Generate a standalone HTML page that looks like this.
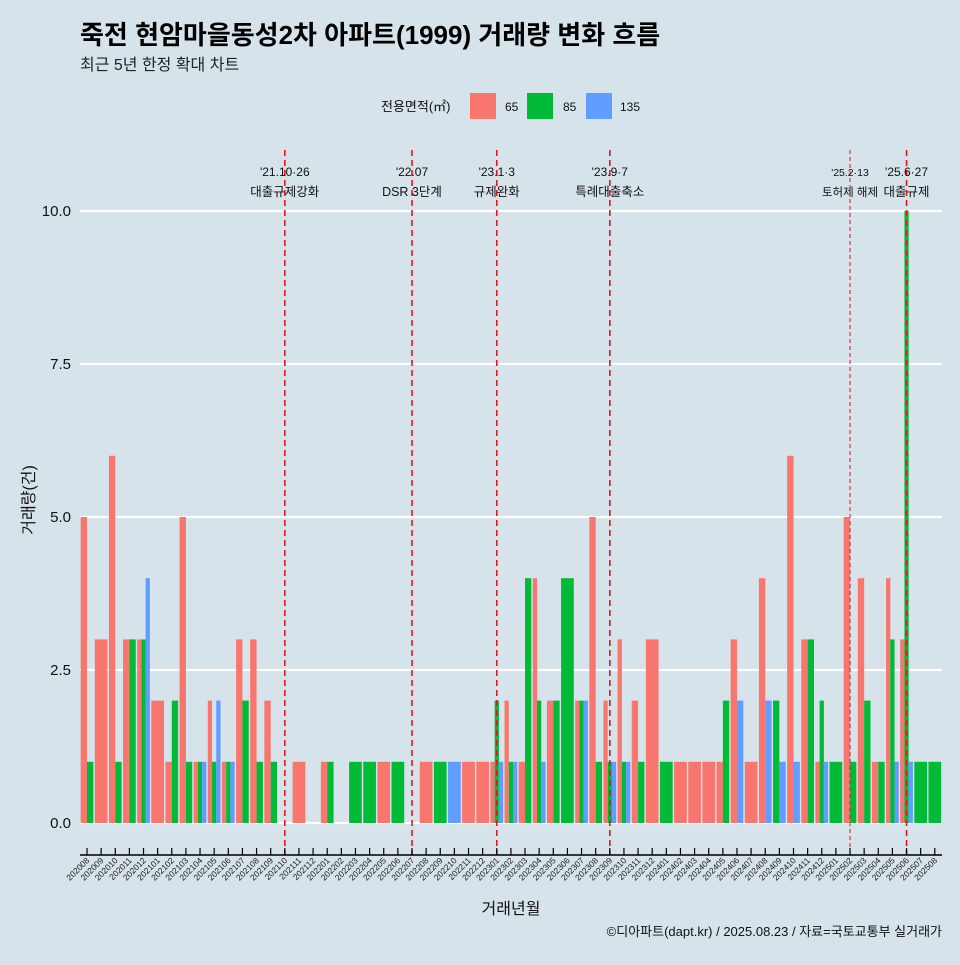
<!DOCTYPE html>
<html><head><meta charset="utf-8">
<style>
html,body{margin:0;padding:0;background:#d6e3ea;}
body{width:960px;height:960px;overflow:hidden;font-family:"Liberation Sans","Noto Sans CJK KR",sans-serif;}
</style></head>
<body>
<svg id="chart" width="960" height="960" xmlns="http://www.w3.org/2000/svg" style="font-family:'Liberation Sans','Noto Sans CJK KR',sans-serif">
<rect width="960" height="960" fill="#d6e3ea"/>
<text x="80" y="44" font-size="26" font-weight="bold" fill="#000">죽전 현암마을동성2차 아파트(1999) 거래량 변화 흐름</text>
<text x="80" y="70" font-size="16" fill="#222">최근 5년 한정 확대 차트</text>
<g>
<text x="381" y="111" font-size="13" fill="#111">전용면적(㎡)</text>
<rect x="470" y="93" width="26" height="26" fill="#F8766D"/>
<text x="505" y="111" font-size="12" fill="#111">65</text>
<rect x="527" y="93" width="26" height="26" fill="#00BA38"/>
<text x="563" y="111" font-size="12" fill="#111">85</text>
<rect x="586" y="93" width="26" height="26" fill="#619CFF"/>
<text x="620" y="111" font-size="12" fill="#111">135</text>
</g>
<g id="grid"></g><g id="bars"></g><g id="events"></g><g id="axes"></g>
<text transform="translate(34,500) rotate(-90)" text-anchor="middle" font-size="16" fill="#111">거래량(건)</text>
<text x="511" y="914" text-anchor="middle" font-size="16" fill="#111">거래년월</text>
<text x="942" y="936" text-anchor="end" font-size="13" fill="#111">©디아파트(dapt.kr) / 2025.08.23 / 자료=국토교통부 실거래가</text>
</svg>
<script>
const months=["202008","202009","202010","202011","202012","202101","202102","202103","202104","202105","202106","202107","202108","202109","202110","202111","202112","202201","202202","202203","202204","202205","202206","202207","202208","202209","202210","202211","202212","202301","202302","202303","202304","202305","202306","202307","202308","202309","202310","202311","202312","202401","202402","202403","202404","202405","202406","202407","202408","202409","202410","202411","202412","202501","202502","202503","202504","202505","202506","202507","202508"];
const s65 =[5,3,6,3,3,2,1,5,1,2,1,3,3,2,0,1,0,1,0,0,0,1,0,0,1,0,0,1,1,1,2,1,4,2,0,2,5,2,3,2,3,0,1,1,1,1,3,1,4,0,6,3,1,0,5,4,1,4,3,0,0];
const s85 =[1,0,1,3,3,0,2,1,1,1,1,2,1,1,0,0,0,1,0,1,1,0,1,0,0,1,0,0,0,2,1,4,2,2,4,2,1,1,1,1,0,1,0,0,0,2,0,0,0,2,0,3,2,1,1,2,1,3,10,1,1];
const s135=[0,0,0,0,4,0,0,0,1,2,1,0,0,0,0,0,0,0,0,0,0,0,0,0,0,0,1,0,0,1,1,0,1,0,0,2,0,1,1,0,0,0,0,0,0,0,2,0,2,1,1,0,1,0,0,0,0,1,1,0,0];
const yTicks=[0,2.5,5,7.5,10];
const yTickLabels=["0.0","2.5","5.0","7.5","10.0"];
const eventMonths=["202110","202207","202301","202309","202502","202506"];
const eventDates=["'21.10·26","'22.07","'23.1·3","'23.9·7","'25.2·13","'25.6·27"];
const eventNames=["대출규제강화","DSR 3단계","규제완화","특례대출축소","토허제 해제","대출규제"];
const NS="http://www.w3.org/2000/svg";
const x0=87,step=14.13,y0=823,yk=61.2;
const xs=i=>x0+i*step, ys=v=>y0-v*yk;
function mk(tag,attrs,parent){const e=document.createElementNS(NS,tag);for(const k in attrs)e.setAttribute(k,attrs[k]);parent.appendChild(e);return e;}
const grid=document.getElementById('grid'),bars=document.getElementById('bars'),ev=document.getElementById('events'),ax=document.getElementById('axes');
yTicks.forEach((t,i)=>{
 const l=mk('line',{x1:80,x2:942,y1:ys(t),y2:ys(t),stroke:'#fff','stroke-width':2.2},grid);
 
 
 const tx=mk('text',{x:71,y:ys(t)+5,'text-anchor':'end','font-size':15,fill:'#111'},ax);
 tx.textContent=yTickLabels[i];
 
 
});
const series=[[s65,'#F8766D','65'],[s85,'#00BA38','85'],[s135,'#619CFF','135']];
const slot=12.7;
months.forEach((m,i)=>{
 const present=series.filter(s=>s[0][i]>0);
 const w=slot/(present.length||1);
 present.forEach((s,j)=>{
  const v=s[0][i];
  const r=mk('rect',{x:xs(i)-slot/2+j*w,y:ys(v),width:w,height:v*yk,fill:s[1]},bars);
  
  
 });
});
mk('line',{x1:80,x2:942,y1:855,y2:855,stroke:'#000','stroke-width':1.5},ax);
months.forEach((m,i)=>{
 const t=mk('line',{x1:xs(i),x2:xs(i),y1:848,y2:855,stroke:'#000','stroke-width':1.2},ax);
 
 
 const tx=mk('text',{transform:`translate(${xs(i)+3},${861}) rotate(-45)`,'text-anchor':'end','font-size':8.5,fill:'#222'},ax);
 tx.textContent=m;
 
 
});
eventMonths.forEach((m,k)=>{
 const x=xs(months.indexOf(m));
 const thin=m==="202502";
 const l=mk('line',{x1:x,x2:x,y1:150,y2:855,stroke:'#e8141c','stroke-width':thin?1:1.6,'stroke-dasharray':thin?'4,3':'6,4'},ev);
 
 
 const t1=mk('text',{x:x,y:176,'text-anchor':'middle','font-size':thin?10.5:12,fill:'#111'},ev);
 t1.textContent=eventDates[k];
 
 
 const t2=mk('text',{x:x,y:196,'text-anchor':'middle','font-size':thin?11.5:12.5,fill:'#111'},ev);
 t2.textContent=eventNames[k];
 
 
});
</script>
</body></html>
